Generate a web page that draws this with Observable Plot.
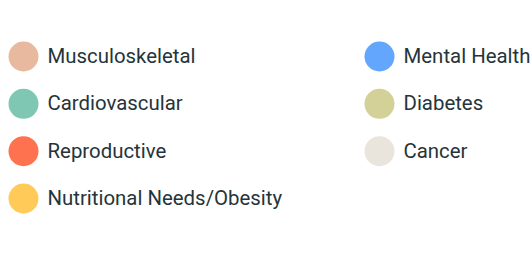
<!DOCTYPE html>
<html>
<head>
<meta charset="utf-8">
<script src="https://cdn.jsdelivr.net/npm/d3@7"></script>
<script src="https://cdn.jsdelivr.net/npm/@observablehq/plot@0.6"></script>
<style>
  html, body { margin: 0; padding: 0; background: #fff; }
  #chart svg { display: block; }
</style>
</head>
<body>
<div id="chart"></div>
<script>
const categories = ["Musculoskeletal", "Cardiovascular", "Reproductive", "Nutritional Needs/Obesity", "Mental Health", "Diabetes", "Cancer"];
const columns = [0, 0, 0, 0, 1, 1, 1];
const rows = [0, 1, 2, 3, 0, 1, 2];
const colors = ["#e8b99f", "#7fc7b3", "#fe724f", "#ffca58", "#62a6fd", "#d3d198", "#e9e5dc"];

const data = categories.map((c, i) => ({category: c, col: columns[i], row: rows[i]}));

const chart = Plot.plot({
  width: 532,
  height: 255,
  margin: 0,
  x: {domain: [0, 1], range: [23, 379], axis: null},
  y: {domain: [0, 3], range: [56, 198], axis: null},
  color: {domain: categories, range: colors},
  style: {fontFamily: "Roboto, sans-serif", background: "#fff"},
  marks: [
    Plot.dot(data, {x: "col", y: "row", r: 15, fill: "category", stroke: null}),
    Plot.text(data, {x: "col", y: "row", text: "category", dx: 24, textAnchor: "start", fontSize: 20.4, fill: "#25343a", lineAnchor: "middle"})
  ]
});
document.getElementById("chart").append(chart);
</script>
</body>
</html>
